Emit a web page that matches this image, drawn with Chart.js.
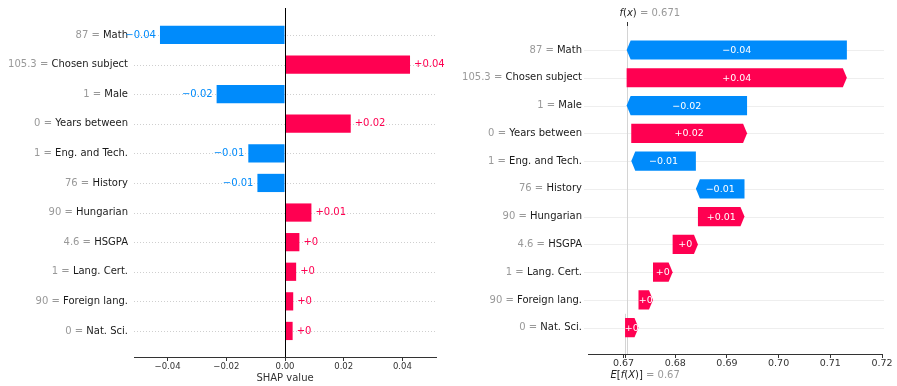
<!DOCTYPE html>
<html>
<head>
<meta charset="utf-8">
<title>SHAP explanation</title>
<script src="https://cdn.jsdelivr.net/npm/chart.js@4/dist/chart.umd.min.js"></script>
<style>
  html, body { margin: 0; padding: 0; background: #ffffff; }
  #wrap { position: relative; width: 897px; height: 386px; overflow: hidden; }
  .pane { position: absolute; top: 0; height: 386px; }
  #leftPane { left: 0; width: 450px; }
  #rightPane { left: 450px; width: 447px; }
</style>
</head>
<body>
<div id="wrap">
  <div class="pane" id="leftPane"><canvas id="barChart" width="450" height="386"></canvas></div>
  <div class="pane" id="rightPane"><canvas id="waterfallChart" width="447" height="386"></canvas></div>
</div>
<script>
// Features, top to bottom
const features = ['Math', 'Chosen subject', 'Male', 'Years between', 'Eng. and Tech.', 'History',
                  'Hungarian', 'HSGPA', 'Lang. Cert.', 'Foreign lang.', 'Nat. Sci.'];
// Observed value of each feature
const featureValues = ['87', '105.3', '1', '0', '1', '76', '90', '4.6', '1', '90', '0'];
// SHAP contribution of each feature
const shapValues = [-0.0426, 0.0426, -0.0233, 0.0224, -0.0125, -0.0094,
                    0.0090, 0.0049, 0.0038, 0.0028, 0.0026];
// Expected model output E[f(X)]
const baseValue = 0.6703;
// Axis ticks
const barTicks = [-0.04, -0.02, 0.00, 0.02, 0.04];
const waterfallTicks = [0.67, 0.68, 0.69, 0.70, 0.71, 0.72];

const FONT = '"DejaVu Sans", "Liberation Sans", sans-serif';
const RED = '#ff0051';
const BLUE = '#008bfb';
const MINUS = '\u2212';

function fmtShap(v) {
  const r = Math.round(v * 100) / 100;
  const sign = v < 0 ? MINUS : '+';
  return sign + (r === 0 ? '0' : String(Math.abs(r)));
}
function fmtTick(v) {
  const s = Math.abs(v).toFixed(2);
  return (v < -1e-9 ? MINUS : '') + s;
}
function trimNum(v) { return String(Number(v.toFixed(3))); }

// Draw a sequence of differently styled text runs on one line
function drawRuns(ctx, runs, x, y, align) {
  let total = 0;
  const widths = runs.map(r => {
    ctx.font = (r.italic ? 'italic ' : '') + r.size + 'px ' + FONT;
    const w = ctx.measureText(r.t).width;
    total += w;
    return w;
  });
  let cx = align === 'right' ? x - total : (align === 'center' ? x - total / 2 : x);
  ctx.textAlign = 'left';
  ctx.textBaseline = 'middle';
  runs.forEach((r, i) => {
    ctx.font = (r.italic ? 'italic ' : '') + r.size + 'px ' + FONT;
    ctx.fillStyle = r.c;
    ctx.fillText(r.t, cx, y);
    cx += widths[i];
  });
}

function featureLabel(i) {
  return [
    { t: featureValues[i] + ' = ', c: '#999999', size: 10 },
    { t: features[i], c: '#1a1a1a', size: 10 }
  ];
}

const indexes = features.map((_, i) => i);

// ---------- Left: SHAP bar plot ----------
const barDecor = {
  id: 'barDecor',
  beforeDatasetsDraw(chart) {
    const { ctx, chartArea, scales } = chart;
    ctx.save();
    ctx.strokeStyle = '#cfcfcf';
    ctx.lineWidth = 1;
    ctx.setLineDash([1, 2]);
    indexes.forEach(i => {
      const y = Math.round(scales.y.getPixelForValue(i)) + 0.5;
      ctx.beginPath();
      ctx.moveTo(chartArea.left, y);
      ctx.lineTo(chartArea.right, y);
      ctx.stroke();
    });
    ctx.restore();
  },
  afterDatasetsDraw(chart) {
    const { ctx, chartArea, scales } = chart;
    ctx.save();
    // zero line
    const x0 = Math.round(scales.x.getPixelForValue(0)) + 0.5;
    ctx.strokeStyle = '#000000';
    ctx.lineWidth = 1;
    ctx.beginPath();
    ctx.moveTo(x0, chartArea.top);
    ctx.lineTo(x0, chartArea.bottom);
    ctx.stroke();
    // feature labels
    indexes.forEach(i => {
      drawRuns(ctx, featureLabel(i), chartArea.left - 6, scales.y.getPixelForValue(i), 'right');
    });
    // value labels at bar ends
    const meta = chart.getDatasetMeta(0);
    meta.data.forEach((el, i) => {
      const v = shapValues[i];
      const txt = fmtShap(v);
      ctx.font = '10px ' + FONT;
      ctx.textBaseline = 'middle';
      ctx.fillStyle = v < 0 ? BLUE : RED;
      if (v < 0) { ctx.textAlign = 'right'; ctx.fillText(txt, el.x - 4, el.y); }
      else { ctx.textAlign = 'left'; ctx.fillText(txt, el.x + 4, el.y); }
    });
    ctx.restore();
  }
};

new Chart(document.getElementById('barChart'), {
  type: 'bar',
  data: {
    datasets: [{
      data: shapValues.map((v, i) => ({ x: v, y: i })),
      backgroundColor: shapValues.map(v => (v < 0 ? BLUE : RED)),
      borderWidth: 0,
      barPercentage: 0.7,
      categoryPercentage: 1
    }]
  },
  options: {
    indexAxis: 'y',
    responsive: false,
    animation: false,
    events: [],
    layout: { padding: { top: 8, right: 14, left: 0, bottom: 0 } },
    plugins: { legend: { display: false }, tooltip: { enabled: false } },
    scales: {
      x: {
        type: 'linear',
        min: -0.05145,
        max: 0.05145,
        afterBuildTicks: s => { s.ticks = barTicks.map(v => ({ value: v })); },
        ticks: { callback: v => fmtTick(v), font: { size: 8.5, family: FONT }, color: '#333333',
                 padding: 1, maxRotation: 0, autoSkip: false },
        grid: { drawOnChartArea: false, tickColor: '#333333', tickLength: 4 },
        border: { display: true, color: '#333333', width: 1 },
        title: { display: true, text: 'SHAP value', font: { size: 10, family: FONT }, color: '#333333',
                 padding: { top: 0, bottom: 2 } },
        afterFit: s => { s.height = 29; }
      },
      y: {
        type: 'linear',
        reverse: true,
        offset: false,
        min: -0.91,
        max: 10.88,
        ticks: { display: false },
        grid: { display: false },
        border: { display: false },
        afterFit: s => { s.width = 134; }
      }
    }
  },
  plugins: [barDecor]
});

// ---------- Right: SHAP waterfall plot ----------
const n = shapValues.length;
const segments = new Array(n);
let running = baseValue;
for (let i = n - 1; i >= 0; i--) {
  segments[i] = [running, running + shapValues[i]];
  running += shapValues[i];
}
const fx = running;

const waterfallDecor = {
  id: 'waterfallDecor',
  beforeDatasetsDraw(chart) {
    const { ctx, chartArea, scales } = chart;
    ctx.save();
    ctx.strokeStyle = '#eeeeee';
    ctx.lineWidth = 1;
    indexes.forEach(i => {
      const y = Math.round(scales.y.getPixelForValue(i)) + 0.5;
      ctx.beginPath();
      ctx.moveTo(chartArea.left - 4, y);
      ctx.lineTo(chartArea.right + 2, y);
      ctx.stroke();
    });
    // f(x) line through the whole plot, E[f(X)] line on the bottom row
    const xf = Math.round(scales.x.getPixelForValue(fx)) + 0.5;
    const xb = Math.round(scales.x.getPixelForValue(baseValue)) + 0.5;
    ctx.strokeStyle = '#d4d4d4';
    ctx.beginPath();
    ctx.moveTo(xf, chartArea.top);
    ctx.lineTo(xf, chartArea.bottom);
    ctx.stroke();
    ctx.beginPath();
    ctx.moveTo(xb, scales.y.getPixelForValue(n - 1.5));
    ctx.lineTo(xb, chartArea.bottom);
    ctx.stroke();
    ctx.restore();
  },
  afterDatasetsDraw(chart) {
    const { ctx, chartArea, scales } = chart;
    const meta = chart.getDatasetMeta(0);
    ctx.save();
    meta.data.forEach((el, i) => {
      const v = shapValues[i];
      const a = Math.min(el.x, el.base);
      const b = Math.max(el.x, el.base);
      const h = el.height;
      const top = el.y - h / 2, bot = el.y + h / 2;
      const head = Math.min(4, b - a);
      ctx.fillStyle = v < 0 ? BLUE : RED;
      ctx.beginPath();
      if (v >= 0) {
        ctx.moveTo(a, top);
        ctx.lineTo(b - head, top);
        ctx.lineTo(b, el.y);
        ctx.lineTo(b - head, bot);
        ctx.lineTo(a, bot);
      } else {
        ctx.moveTo(b, top);
        ctx.lineTo(a + head, top);
        ctx.lineTo(a, el.y);
        ctx.lineTo(a + head, bot);
        ctx.lineTo(b, bot);
      }
      ctx.closePath();
      ctx.fill();
      ctx.font = '9.5px ' + FONT;
      ctx.fillStyle = '#ffffff';
      ctx.textAlign = 'center';
      ctx.textBaseline = 'middle';
      ctx.fillText(fmtShap(v), (a + b) / 2, el.y + 0.5);
    });
    // feature labels
    indexes.forEach(i => {
      drawRuns(ctx, featureLabel(i), chartArea.left - 6, scales.y.getPixelForValue(i), 'right');
    });
    // f(x) marker and label on top
    const xf = Math.round(scales.x.getPixelForValue(fx)) + 0.5;
    ctx.strokeStyle = '#333333';
    ctx.lineWidth = 1;
    ctx.beginPath();
    ctx.moveTo(xf, chartArea.top - 4);
    ctx.lineTo(xf, chartArea.top);
    ctx.stroke();
    drawRuns(ctx, [
      { t: 'f', c: '#222222', size: 10, italic: true },
      { t: '(', c: '#222222', size: 10 },
      { t: 'x', c: '#222222', size: 10, italic: true },
      { t: ')', c: '#222222', size: 10 },
      { t: ' = ' + fx.toFixed(3), c: '#999999', size: 10 }
    ], xf - 8, chartArea.top - 13, 'left');
    // E[f(X)] marker and label below the axis
    const xb = Math.round(scales.x.getPixelForValue(baseValue)) + 0.5;
    ctx.beginPath();
    ctx.moveTo(xb, chartArea.bottom);
    ctx.lineTo(xb, chartArea.bottom + 4);
    ctx.stroke();
    drawRuns(ctx, [
      { t: 'E', c: '#222222', size: 10, italic: true },
      { t: '[', c: '#222222', size: 10 },
      { t: 'f', c: '#222222', size: 10, italic: true },
      { t: '(', c: '#222222', size: 10 },
      { t: 'X', c: '#222222', size: 10, italic: true },
      { t: ')]', c: '#222222', size: 10 },
      { t: ' = ' + trimNum(baseValue), c: '#999999', size: 10 }
    ], xb - 15, chartArea.bottom + 21, 'left');
    ctx.restore();
  }
};

new Chart(document.getElementById('waterfallChart'), {
  type: 'bar',
  data: {
    datasets: [{
      data: segments.map((s, i) => ({ x: s, y: i })),
      backgroundColor: 'rgba(0,0,0,0)',
      borderWidth: 0,
      barPercentage: 0.8,
      categoryPercentage: 1
    }]
  },
  options: {
    indexAxis: 'y',
    responsive: false,
    animation: false,
    events: [],
    layout: { padding: { top: 26, right: 15, left: 0, bottom: 0 } },
    plugins: { legend: { display: false }, tooltip: { enabled: false } },
    scales: {
      x: {
        type: 'linear',
        min: 0.66313,
        max: 0.72,
        afterBuildTicks: s => { s.ticks = waterfallTicks.map(v => ({ value: v })); },
        ticks: { callback: v => fmtTick(v), font: { size: 9.5, family: FONT }, color: '#333333',
                 padding: 0, maxRotation: 0, autoSkip: false },
        grid: { drawOnChartArea: false, tickColor: '#333333', tickLength: 4 },
        border: { display: true, color: '#333333', width: 1 },
        afterFit: s => { s.height = 32; }
      },
      y: {
        type: 'linear',
        reverse: true,
        offset: false,
        min: -0.864,
        max: 10.947,
        ticks: { display: false },
        grid: { display: false },
        border: { display: false },
        afterFit: s => { s.width = 138; }
      }
    }
  },
  plugins: [waterfallDecor]
});
</script>
</body>
</html>
